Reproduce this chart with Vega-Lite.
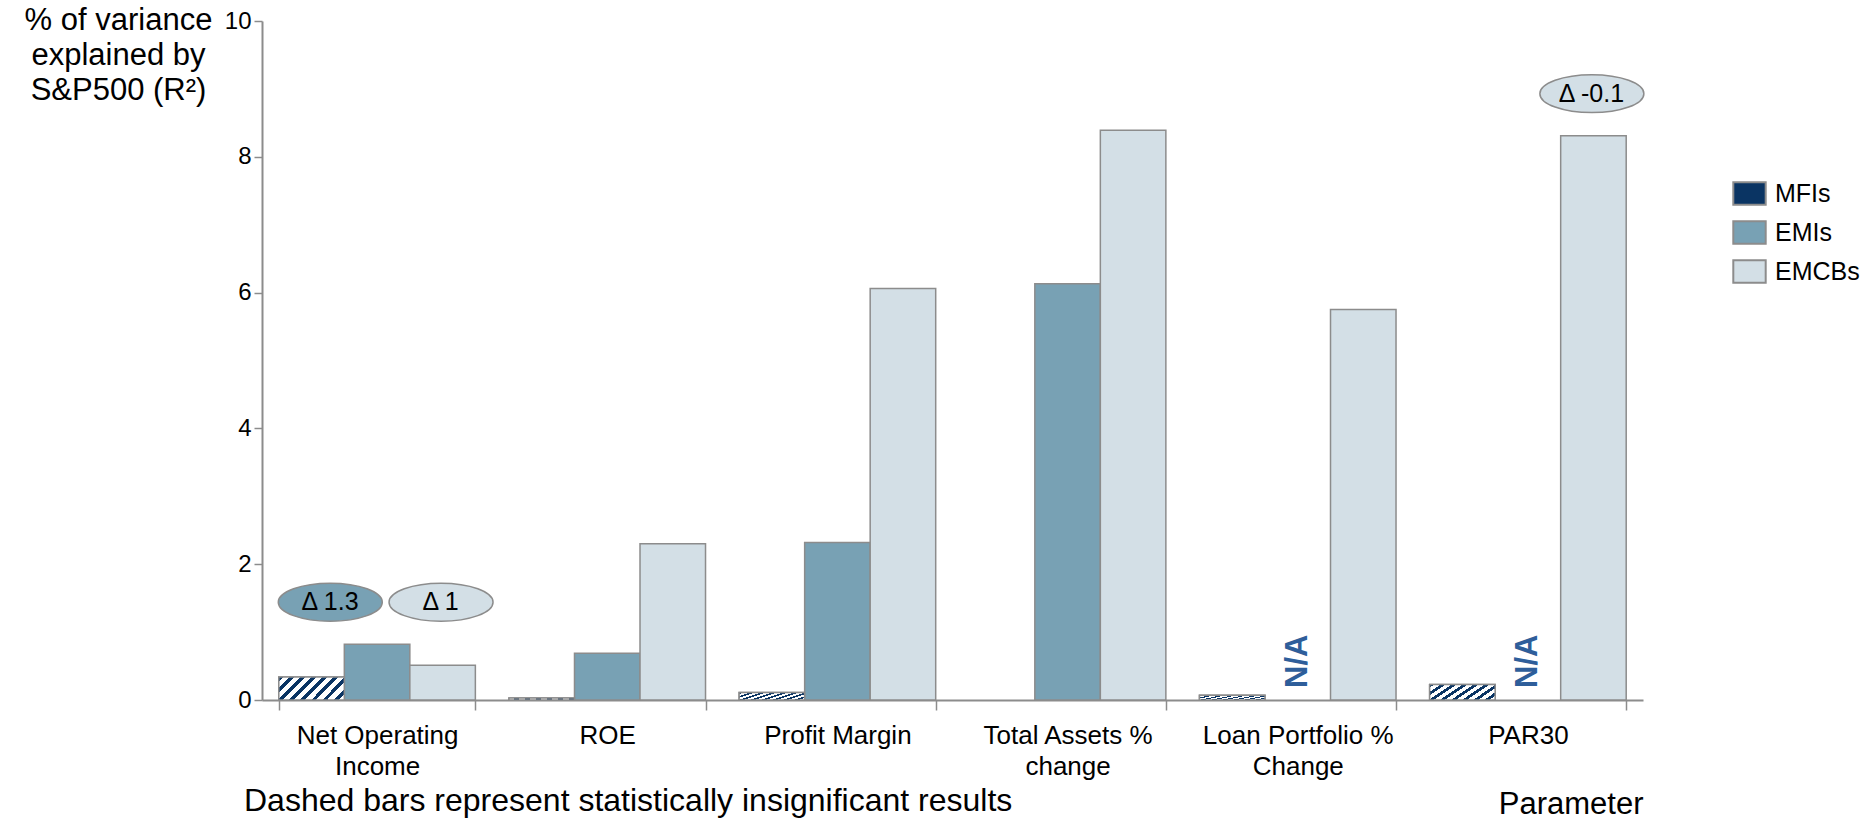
{
  "$schema": "https://vega.github.io/schema/vega-lite/v6.json",
  "width": 1381,
  "height": 679,
  "autosize": {"type": "none"},
  "padding": {"left": 262, "top": 21, "right": 224, "bottom": 120},
  "background": "white",
  "config": {
    "font": "Liberation Sans",
    "view": {"stroke": null},
    "axis": {
      "domainColor": "#8c8c8c",
      "domainWidth": 2,
      "tickColor": "#8c8c8c",
      "tickWidth": 1.5,
      "labelColor": "black",
      "titleColor": "black",
      "grid": false
    }
  },
  "title": {
    "text": "Dashed bars represent statistically insignificant results",
    "orient": "bottom",
    "anchor": "start",
    "frame": "group",
    "fontSize": 32,
    "fontWeight": "normal",
    "color": "black",
    "dx": -18,
    "offset": -8,
    "baseline": "alphabetic"
  },
  "data": {
    "values": [
      {"Parameter": "Net Operating Income", "Group": "MFIs", "value": 0.34, "significant": false},
      {"Parameter": "Net Operating Income", "Group": "EMIs", "value": 0.82, "significant": true, "delta": "Δ 1.3"},
      {"Parameter": "Net Operating Income", "Group": "EMCBs", "value": 0.51, "significant": true, "delta": "Δ 1"},
      {"Parameter": "ROE", "Group": "MFIs", "value": 0.03, "significant": false},
      {"Parameter": "ROE", "Group": "EMIs", "value": 0.69, "significant": true},
      {"Parameter": "ROE", "Group": "EMCBs", "value": 2.3, "significant": true},
      {"Parameter": "Profit Margin", "Group": "MFIs", "value": 0.11, "significant": false},
      {"Parameter": "Profit Margin", "Group": "EMIs", "value": 2.32, "significant": true},
      {"Parameter": "Profit Margin", "Group": "EMCBs", "value": 6.06, "significant": true},
      {"Parameter": "Total Assets % change", "Group": "EMIs", "value": 6.13, "significant": true},
      {"Parameter": "Total Assets % change", "Group": "EMCBs", "value": 8.39, "significant": true},
      {"Parameter": "Loan Portfolio % Change", "Group": "MFIs", "value": 0.07, "significant": false},
      {"Parameter": "Loan Portfolio % Change", "Group": "EMIs", "value": null, "note": "N/A"},
      {"Parameter": "Loan Portfolio % Change", "Group": "EMCBs", "value": 5.75, "significant": true},
      {"Parameter": "PAR30", "Group": "MFIs", "value": 0.23, "significant": false},
      {"Parameter": "PAR30", "Group": "EMIs", "value": null, "note": "N/A"},
      {"Parameter": "PAR30", "Group": "EMCBs", "value": 8.31, "significant": true, "delta": "Δ -0.1"}
    ]
  },
  "encoding": {
    "x": {
      "field": "Parameter",
      "type": "nominal",
      "sort": ["Net Operating Income", "ROE", "Profit Margin", "Total Assets % change", "Loan Portfolio % Change", "PAR30"],
      "scale": {"paddingInner": 0.146, "paddingOuter": 0.073},
      "axis": {
        "title": "Parameter",
        "titleX": 1381,
        "titleY": 113,
        "titleAlign": "right",
        "titleBaseline": "alphabetic",
        "titleFontSize": 31,
        "titleFontWeight": "normal",
        "labelAngle": 0,
        "labelFontSize": 26,
        "labelLineHeight": 31,
        "labelPadding": 12,
        "labelLimit": 400,
        "tickSize": 10,
        "tickBand": "extent",
        "labelExpr": "datum.value == 'Net Operating Income' ? ['Net Operating', 'Income'] : datum.value == 'Total Assets % change' ? ['Total Assets %', 'change'] : datum.value == 'Loan Portfolio % Change' ? ['Loan Portfolio %', 'Change'] : datum.value"
      }
    },
    "xOffset": {
      "field": "Group",
      "type": "nominal",
      "sort": ["MFIs", "EMIs", "EMCBs"],
      "scale": {"domain": ["MFIs", "EMIs", "EMCBs"], "paddingInner": 0, "paddingOuter": 0}
    }
  },
  "layer": [
    {
      "mark": {"type": "bar", "stroke": "#8c8c8c", "strokeWidth": 1.5},
      "encoding": {
        "y": {
          "field": "value",
          "type": "quantitative",
          "scale": {"domain": [0, 10], "nice": false},
          "axis": {
            "values": [0, 2, 4, 6, 8, 10],
            "format": "d",
            "title": ["% of variance", "explained by", "S&P500 (R²)"],
            "titleAngle": 0,
            "titleAlign": "center",
            "titleBaseline": "top",
            "titleX": -144,
            "titleY": -16,
            "titleFontSize": 31,
            "titleFontWeight": "normal",
            "titleLineHeight": 35,
            "labelFontSize": 24,
            "labelPadding": 3,
            "tickSize": 8
          }
        },
        "color": {
          "field": "Group",
          "type": "nominal",
          "scale": {"domain": ["MFIs", "EMIs", "EMCBs"], "range": ["#0a3463", "#78a1b4", "#d3dfe6"]},
          "legend": {
            "title": null,
            "orient": "none",
            "legendX": 1470,
            "legendY": 155,
            "padding": 0,
            "symbolType": "M-1,-0.7H1V0.7H-1Z",
            "symbolSize": 1050,
            "symbolStrokeColor": "#8c8c8c",
            "symbolStrokeWidth": 2,
            "symbolOpacity": 1,
            "labelFontSize": 25,
            "labelColor": "black",
            "labelOffset": 8,
            "rowPadding": 6
          }
        }
      }
    },
    {
      "transform": [{"filter": "datum.significant === false"}],
      "mark": {
        "type": "bar",
        "stroke": "#8c8c8c",
        "strokeWidth": 1.5,
        "fill": {
          "gradient": "linear",
          "x1": 0, "y1": 0, "x2": 1.2, "y2": 0.42,
          "stops": [
            {"offset": 0, "color": "#0a3463"}, {"offset": 0.056, "color": "#0a3463"}, {"offset": 0.056, "color": "white"}, {"offset": 0.125, "color": "white"},
            {"offset": 0.125, "color": "#0a3463"}, {"offset": 0.181, "color": "#0a3463"}, {"offset": 0.181, "color": "white"}, {"offset": 0.25, "color": "white"},
            {"offset": 0.25, "color": "#0a3463"}, {"offset": 0.306, "color": "#0a3463"}, {"offset": 0.306, "color": "white"}, {"offset": 0.375, "color": "white"},
            {"offset": 0.375, "color": "#0a3463"}, {"offset": 0.431, "color": "#0a3463"}, {"offset": 0.431, "color": "white"}, {"offset": 0.5, "color": "white"},
            {"offset": 0.5, "color": "#0a3463"}, {"offset": 0.556, "color": "#0a3463"}, {"offset": 0.556, "color": "white"}, {"offset": 0.625, "color": "white"},
            {"offset": 0.625, "color": "#0a3463"}, {"offset": 0.681, "color": "#0a3463"}, {"offset": 0.681, "color": "white"}, {"offset": 0.75, "color": "white"},
            {"offset": 0.75, "color": "#0a3463"}, {"offset": 0.806, "color": "#0a3463"}, {"offset": 0.806, "color": "white"}, {"offset": 0.875, "color": "white"},
            {"offset": 0.875, "color": "#0a3463"}, {"offset": 0.931, "color": "#0a3463"}, {"offset": 0.931, "color": "white"}, {"offset": 1, "color": "white"}
          ]
        }
      },
      "encoding": {
        "y": {"field": "value", "type": "quantitative"}
      }
    },
    {
      "transform": [
        {"joinaggregate": [{"op": "max", "field": "value", "as": "top"}], "groupby": ["Parameter"]},
        {"filter": "datum.delta != null && datum.Group == 'EMIs'"}
      ],
      "layer": [
        {
          "mark": {"type": "point", "filled": true, "opacity": 1, "shape": "M-1.9,-0.81 A1,0.365 0 1,1 0.1,-0.81 A1,0.365 0 1,1 -1.9,-0.81 Z", "size": 10816, "stroke": "#8c8c8c", "strokeWidth": 1.5},
          "encoding": {
            "y": {"field": "top", "type": "quantitative"},
            "color": {"field": "Group", "type": "nominal", "legend": null}
          }
        },
        {
          "mark": {"type": "text", "dx": -47, "dy": -42, "fontSize": 25, "color": "black", "align": "center", "baseline": "middle"},
          "encoding": {
            "y": {"field": "top", "type": "quantitative"},
            "text": {"field": "delta"}
          }
        }
      ]
    },
    {
      "transform": [
        {"joinaggregate": [{"op": "max", "field": "value", "as": "top"}], "groupby": ["Parameter"]},
        {"filter": "datum.delta != null && datum.Group == 'EMCBs'"}
      ],
      "layer": [
        {
          "mark": {"type": "point", "filled": true, "opacity": 1, "shape": "M-1.03,-0.81 A1,0.365 0 1,1 0.97,-0.81 A1,0.365 0 1,1 -1.03,-0.81 Z", "size": 10816, "stroke": "#8c8c8c", "strokeWidth": 1.5},
          "encoding": {
            "y": {"field": "top", "type": "quantitative"},
            "color": {"field": "Group", "type": "nominal", "legend": null}
          }
        },
        {
          "mark": {"type": "text", "dx": -2, "dy": -42, "fontSize": 25, "color": "black", "align": "center", "baseline": "middle"},
          "encoding": {
            "y": {"field": "top", "type": "quantitative"},
            "text": {"field": "delta"}
          }
        }
      ]
    },
    {
      "transform": [{"filter": "datum.note == 'N/A'"}],
      "mark": {"type": "text", "angle": 270, "fontSize": 31, "fontWeight": "bold", "color": "#2e5e9a", "align": "center", "baseline": "middle"},
      "encoding": {
        "y": {"datum": 0.57, "type": "quantitative"},
        "text": {"field": "note"}
      }
    }
  ]
}
